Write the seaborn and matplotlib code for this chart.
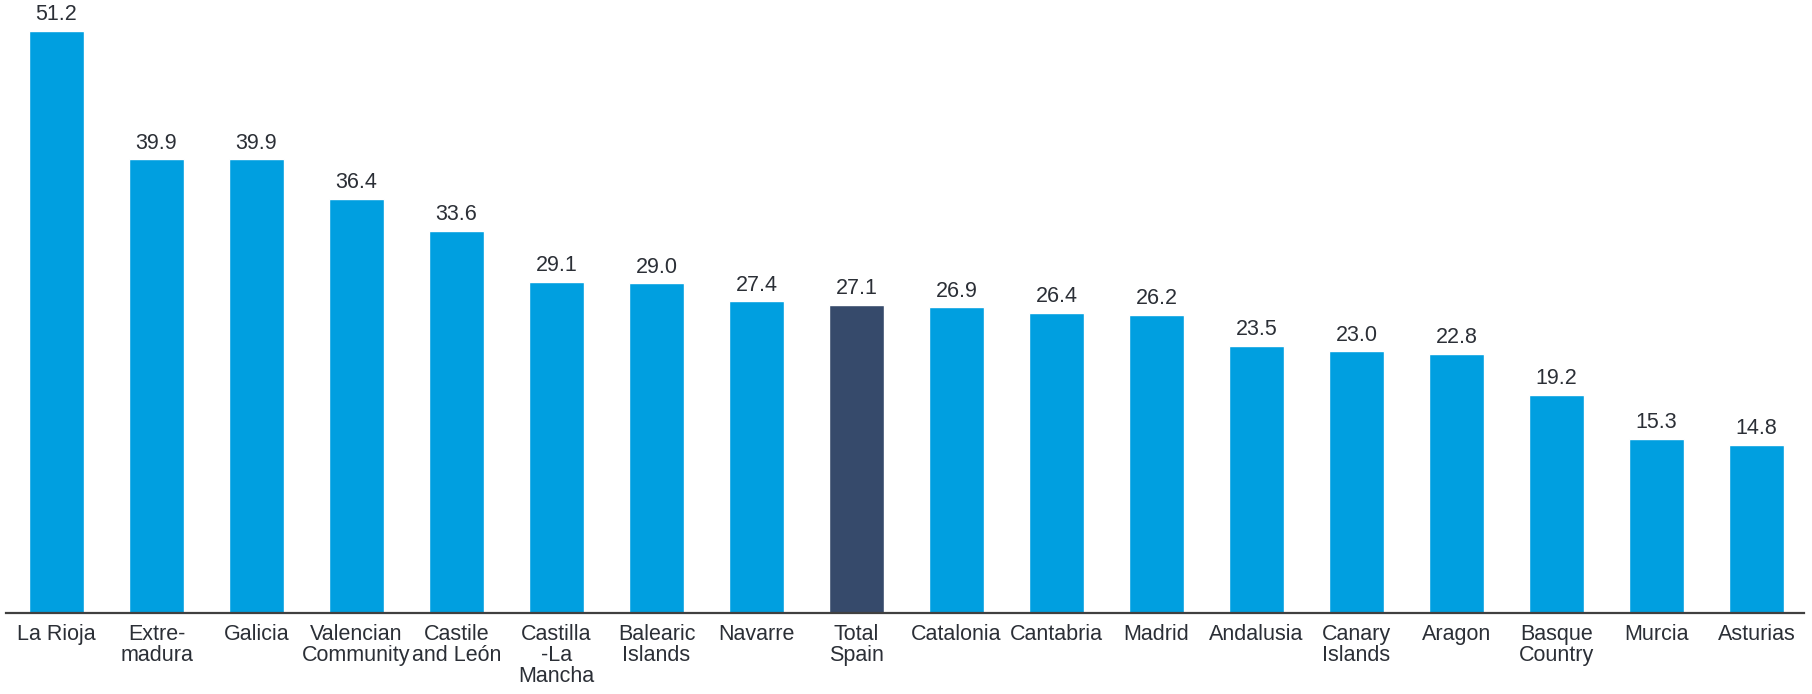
import pandas as pd
import seaborn as sns
import matplotlib.pyplot as plt

# Dữ liệu theo vùng
regions = ["La Rioja", "Extre-\nmadura", "Galicia", "Valencian\nCommunity", "Castile\nand León",
           "Castilla\n-La\nMancha", "Balearic\nIslands", "Navarre", "Total\nSpain", "Catalonia",
           "Cantabria", "Madrid", "Andalusia", "Canary\nIslands", "Aragon", "Basque\nCountry",
           "Murcia", "Asturias"]
values = [51.2, 39.9, 39.9, 36.4, 33.6, 29.1, 29.0, 27.4, 27.1, 26.9,
          26.4, 26.2, 23.5, 23.0, 22.8, 19.2, 15.3, 14.8]
highlight = "Total\nSpain"

df = pd.DataFrame({"region": regions, "value": values})
palette = {r: ("#364A6B" if r == highlight else "#009FE0") for r in regions}

sns.set_style("white")
plt.rcParams['font.family'] = ['Liberation Sans', 'DejaVu Sans']

fig = plt.figure(figsize=(18.12, 6.94), dpi=100)
ax = fig.add_axes([6 / 1812, 81 / 694, (1804 - 6) / 1812, 613 / 694])

sns.barplot(data=df, x="region", y="value", hue="region", palette=palette,
            width=0.55, legend=False, ax=ax, saturation=1)

for c in ax.containers:
    ax.bar_label(c, fmt="%.1f", padding=4, fontsize=15.5, color="#2B2F36")

ax.set_xlim(-0.505, 17.475)
ax.set_ylim(0, 53.9)
ax.set_xlabel("")
ax.set_ylabel("")
ax.set_yticks([])
ax.tick_params(axis="x", length=0, pad=8, labelsize=15.5, labelcolor="#2B2F36")
for lbl in ax.get_xticklabels():
    lbl.set_linespacing(1.0)
for s in ["top", "right", "left"]:
    ax.spines[s].set_visible(False)
ax.spines["bottom"].set_color("#404040")
ax.spines["bottom"].set_linewidth(1.6)

fig.savefig("out.png", dpi=100)
